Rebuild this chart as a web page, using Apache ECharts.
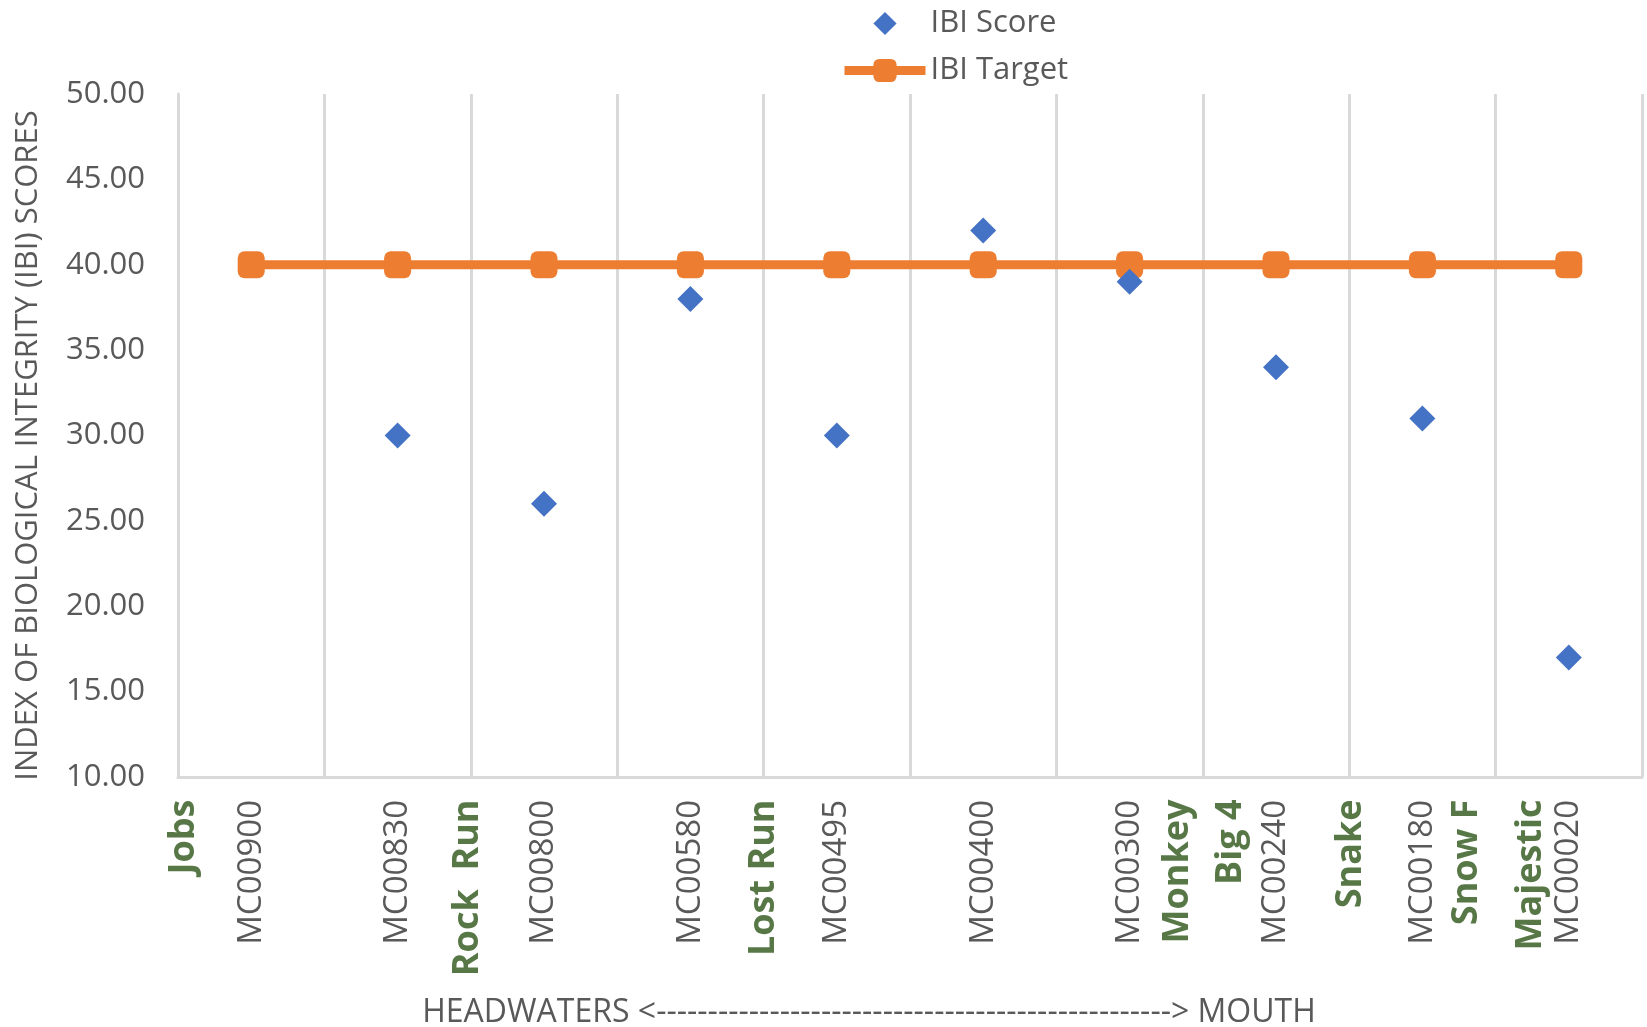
<!DOCTYPE html>
<html>
<head>
<meta charset="utf-8">
<title>IBI Scores</title>
<script src="https://cdn.jsdelivr.net/npm/echarts@6/dist/echarts.min.js"></script>
<style>
  html, body { margin: 0; padding: 0; background: #ffffff; }
  #chart { width: 1647px; height: 1027px; }
</style>
</head>
<body>
<div id="chart"></div>
<script>
// Monitoring stations, headwaters to mouth
const stations = ['MC00900', 'MC00830', 'MC00800', 'MC00580', 'MC00495',
                  'MC00400', 'MC00300', 'MC00240', 'MC00180', 'MC00020'];
// Measured IBI score per station (no sample at MC00900)
const ibiScore = [null, 30, 26, 38, 30, 42, 39, 34, 31, 17];
// Target IBI score
const ibiTarget = [40, 40, 40, 40, 40, 40, 40, 40, 40, 40];
// Tributaries and where they join, in station-interval units along the stream
const tributaryNames = ['Jobs', 'Rock  Run', 'Lost Run', 'Monkey', 'Big 4', 'Snake', 'Snow F', 'Majestic'];
const tributaryPos = [0.04, 1.98, 4.0, 6.83, 7.19, 8.01, 8.8, 9.24];
// Y axis range
const yMin = 10, yMax = 50, yStep = 5;

const FONT = 'Open Sans';
const GREY = '#595959';
const ORANGE = '#ED7D31';
const BLUE = '#4472C4';
const GREEN = '#2d5618';

const chart = echarts.init(document.getElementById('chart'), null, { renderer: 'canvas' });

const option = {
  backgroundColor: '#ffffff',
  animation: false,
  legend: {
    data: [
      { name: 'IBI Score' },
      { name: 'IBI Target', lineStyle: { width: 9 } }
    ],
    orient: 'vertical',
    left: 835,
    top: 3,
    itemWidth: 81,
    itemHeight: 29,
    itemGap: 16,
    textStyle: { fontFamily: FONT, fontSize: 31, color: GREY }
  },
  grid: {
    left: 178, right: 5, top: 94, bottom: 250,
    containLabel: false,
    outerBoundsMode: 'none'
  },
  xAxis: [
    {
      type: 'category',
      data: stations,
      boundaryGap: true,
      axisLine: { show: true, lineStyle: { color: '#d9d9d9', width: 3 } },
      axisTick: { show: false },
      splitLine: { show: true, lineStyle: { color: '#d9d9d9', width: 3 } },
      axisLabel: {
        rotate: 90,
        margin: 23,
        interval: 0,
        fontFamily: FONT,
        fontSize: 33,
        color: GREY
      },
      name: 'HEADWATERS <' + '-'.repeat(50) + '> MOUTH',
      nameLocation: 'middle',
      nameGap: 220,
      nameTextStyle: { fontFamily: FONT, fontSize: 32, color: GREY, padding: [0, 82, 0, 0] }
    },
    {
      type: 'value',
      min: 0,
      max: 10,
      show: false
    }
  ],
  yAxis: {
    type: 'value',
    min: yMin,
    max: yMax,
    interval: yStep,
    axisLine: { show: true, lineStyle: { color: '#d9d9d9', width: 3 } },
    axisTick: { show: false },
    splitLine: { show: false },
    axisLabel: {
      margin: 33,
      fontFamily: FONT,
      fontSize: 31,
      color: GREY,
      formatter: v => v.toFixed(2)
    },
    name: 'INDEX OF BIOLOGICAL INTEGRITY (IBI) SCORES',
    nameLocation: 'middle',
    nameGap: 134,
    nameTextStyle: { fontFamily: FONT, fontSize: 31, color: GREY, padding: [0, 20, 0, 0] }
  },
  series: [
    {
      name: 'IBI Target',
      type: 'line',
      data: ibiTarget,
      symbol: 'roundRect',
      symbolSize: 27,
      color: ORANGE,
      itemStyle: { color: ORANGE },
      lineStyle: { color: ORANGE, width: 9 },
      z: 2
    },
    {
      name: 'IBI Score',
      type: 'line',
      data: ibiScore,
      symbol: 'diamond',
      symbolSize: 26,
      color: BLUE,
      itemStyle: { color: BLUE },
      lineStyle: { width: 0, opacity: 0 },
      connectNulls: false,
      z: 3
    },
    {
      name: 'Tributaries',
      type: 'scatter',
      xAxisIndex: 1,
      yAxisIndex: 0,
      symbol: 'circle',
      symbolSize: 1,
      itemStyle: { color: 'rgba(0,0,0,0)' },
      silent: true,
      clip: false,
      data: tributaryNames.map((n, i) => ({ name: n, value: [tributaryPos[i], yMin] })),
      label: {
        show: true,
        position: 'bottom',
        distance: 22,
        rotate: 90,
        align: 'right',
        verticalAlign: 'middle',
        formatter: p => p.name,
        fontFamily: FONT,
        fontWeight: 'bold',
        fontSize: 36,
        color: GREEN
      },
      z: 4
    }
  ]
};

chart.setOption(option);
</script>
</body>
</html>
